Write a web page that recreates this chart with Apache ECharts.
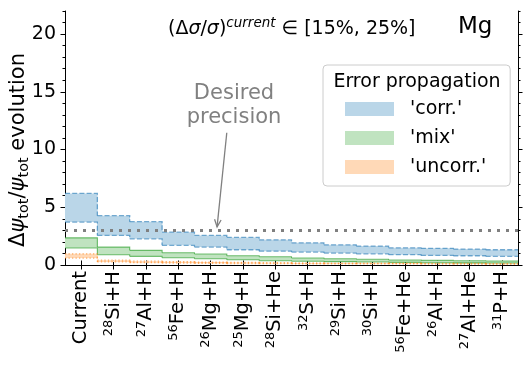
<!DOCTYPE html>
<html><head><meta charset="utf-8">
<script src="https://cdn.jsdelivr.net/npm/echarts@6/dist/echarts.min.js"></script>
<style>html,body{margin:0;padding:0;background:#fff}#c{width:531px;height:366px}</style>
</head><body><div id="c"></div>
<script>
// ---- data ----
const categories = ['Current','28Si+H','27Al+H','56Fe+H','26Mg+H','25Mg+H','28Si+He','32S+H','29Si+H','30Si+H','56Fe+He','26Al+H','27Al+He','31P+H'];
const corrHigh   = [6.20, 4.27, 3.75, 2.84, 2.56, 2.39, 2.18, 1.92, 1.75, 1.64, 1.49, 1.44, 1.38, 1.32];
const corrLow    = [3.72, 2.56, 2.27, 1.70, 1.55, 1.32, 1.20, 1.12, 1.03, 0.97, 0.89, 0.83, 0.80, 0.75];
const mixHigh    = [2.35, 1.55, 1.27, 1.06, 0.95, 0.80, 0.72, 0.60, 0.54, 0.50, 0.43, 0.40, 0.37, 0.34];
const mixLow     = [1.47, 0.89, 0.75, 0.63, 0.54, 0.46, 0.37, 0.32, 0.29, 0.26, 0.23, 0.20, 0.18, 0.17];
const uncorrHigh = [0.97, 0.42, 0.33, 0.28, 0.25, 0.22, 0.20, 0.18, 0.17, 0.16, 0.15, 0.14, 0.13, 0.12];
const uncorrLow  = [0.60, 0.27, 0.20, 0.17, 0.15, 0.13, 0.12, 0.11, 0.10, 0.09, 0.09, 0.08, 0.08, 0.07];
const seriesNames = ["'corr.'", "'mix'", "'uncorr.'"];
const desiredPrecision = 3;
const yMajorTicks = [0, 5, 10, 15, 20];
const arrowTail = [4.5, 11.45];
const arrowHead = [4.2, 3.3];

// ---- rendering ----
const FONT = 'DejaVu Sans';
const chart = echarts.init(document.getElementById('c'), null, {renderer: 'canvas'});

function buildData(low, high) {
  return low.map((lo, i) => [i, lo, high[i],
    i + 1 < low.length ? low[i + 1] : lo,
    i + 1 < high.length ? high[i + 1] : high[i]]);
}

function bandRenderer(fill, edge) {
  return function (params, api) {
    const i = api.value(0);
    const pLo = api.coord([i, api.value(1)]);
    const pHi = api.coord([i, api.value(2)]);
    const nLo = api.coord([i, api.value(3)]);
    const nHi = api.coord([i, api.value(4)]);
    const w = api.size([1, 0])[0];
    const xL = pLo[0] - w / 2, xR = pLo[0] + w / 2;
    const last = params.dataIndex === params.dataInsideLength - 1;
    const topPts = [[xL, pHi[1]], [xR, pHi[1]]];
    const botPts = [[xL, pLo[1]], [xR, pLo[1]]];
    if (!last) { topPts.push([xR, nHi[1]]); botPts.push([xR, nLo[1]]); }
    return {
      type: 'group',
      children: [
        {type: 'rect', shape: {x: xL - 0.3, y: pHi[1], width: w + 0.6, height: pLo[1] - pHi[1]},
         style: {fill: fill}, z2: 1},
        {type: 'polyline', shape: {points: topPts},
         style: {fill: null, stroke: edge.color, lineWidth: edge.width, lineDash: edge.dash}, z2: 2},
        {type: 'polyline', shape: {points: botPts},
         style: {fill: null, stroke: edge.color, lineWidth: edge.width, lineDash: edge.dash}, z2: 2}
      ]
    };
  };
}

const fills = ['#BAD6E8', '#C0E3C0', '#FFD9B7'];
const edges = [
  {color: 'rgba(31,119,180,0.6)', width: 1.3, dash: [5, 2.2]},
  {color: 'rgba(44,160,44,0.65)', width: 1.1, dash: null},
  {color: 'rgba(255,127,14,0.6)', width: 1.3, dash: [1.3, 2.2]}
];
const bands = [[corrLow, corrHigh], [mixLow, mixHigh], [uncorrLow, uncorrHigh]];

function xLabelFormatter(v) {
  const m = v.match(/^(\d+)(.*)$/);
  return m ? '{sup|' + m[1] + '}{main|' + m[2] + '}' : '{main|' + v + '}';
}

const tickStyle = {color: '#000', width: 1};
const series = bands.map((b, k) => ({
  name: seriesNames[k],
  type: 'custom',
  xAxisIndex: 0, yAxisIndex: 0,
  clip: true,
  itemStyle: {color: fills[k]},
  renderItem: bandRenderer(fills[k], edges[k]),
  encode: {x: 0, y: [1, 2]},
  data: buildData(b[0], b[1]),
  z: 2
}));
series[0].markLine = {
  silent: true, symbol: ['none', 'none'], animation: false, z: 5,
  label: {show: false},
  lineStyle: {color: '#808080', type: [3, 6], width: 3},
  data: [{yAxis: desiredPrecision}]
};

const option = {
  animation: false,
  backgroundColor: '#fff',
  textStyle: {fontFamily: FONT},
  grid: {left: 65, right: 13, top: 11, bottom: 101, containLabel: false, outerBoundsMode: 'none'},
  xAxis: [
    {type: 'category', data: categories, position: 'bottom', boundaryGap: true,
     axisLine: {show: true, lineStyle: tickStyle},
     axisTick: {show: true, alignWithLabel: true, interval: 0, length: 4.5, lineStyle: tickStyle},
     axisLabel: {interval: 0, rotate: 90, margin: 6, formatter: xLabelFormatter,
       rich: {
         main: {fontSize: 19.5, fontFamily: FONT, color: '#000', lineHeight: 22},
         sup: {fontSize: 13, fontFamily: FONT, color: '#000', verticalAlign: 'top'}
       }},
     splitLine: {show: false}},
    {type: 'category', data: categories, position: 'top', boundaryGap: true,
     axisLine: {show: true, lineStyle: tickStyle},
     axisTick: {show: true, alignWithLabel: true, interval: 0, length: 4.5, lineStyle: tickStyle},
     axisLabel: {show: false}, splitLine: {show: false}}
  ],
  yAxis: [
    {type: 'value', position: 'left', min: 0, max: 22,
     axisLine: {show: true, lineStyle: tickStyle},
     axisTick: {show: true, length: 4.5, customValues: yMajorTicks, lineStyle: tickStyle},
     axisLabel: {show: true, customValues: yMajorTicks, fontSize: 19, fontFamily: FONT, color: '#000', margin: 9},
     splitLine: {show: false}},
    {type: 'value', position: 'left', min: 0, max: 22, interval: 1,
     axisLine: {show: false}, axisTick: {show: true, length: 2.5, lineStyle: tickStyle},
     axisLabel: {show: false}, splitLine: {show: false}},
    {type: 'value', position: 'right', min: 0, max: 22,
     axisLine: {show: true, lineStyle: tickStyle},
     axisTick: {show: true, length: 4.5, customValues: yMajorTicks, lineStyle: tickStyle},
     axisLabel: {show: false}, splitLine: {show: false}},
    {type: 'value', position: 'right', min: 0, max: 22, interval: 1,
     axisLine: {show: false}, axisTick: {show: true, length: 2.5, lineStyle: tickStyle},
     axisLabel: {show: false}, splitLine: {show: false}}
  ],
  legend: {
    data: seriesNames.map((n, k) => ({name: n, icon: 'rect', itemStyle: {color: fills[k], borderWidth: 0}})),
    orient: 'vertical', left: 323, top: 65, padding: [34, 24, 9, 22],
    itemWidth: 49, itemHeight: 14, itemGap: 9, selectedMode: false,
    backgroundColor: 'rgba(255,255,255,0.8)', borderColor: '#cccccc', borderWidth: 1, borderRadius: 4,
    textStyle: {fontSize: 19, fontFamily: FONT, color: '#000', lineHeight: 20, padding: [0, 0, 0, 11]}
  },
  series: series
};
chart.setOption(option);

// annotations
function toPx(pt) {
  const i0 = Math.floor(pt[0]);
  const a = chart.convertToPixel({xAxisIndex: 0, yAxisIndex: 0}, [i0, pt[1]]);
  const b = chart.convertToPixel({xAxisIndex: 0, yAxisIndex: 0}, [i0 + 1, pt[1]]);
  const f = pt[0] - i0;
  return [a[0] + (b[0] - a[0]) * f, a[1]];
}
const t = toPx(arrowTail), h = toPx(arrowHead);
const ang = Math.atan2(h[1] - t[1], h[0] - t[0]);
const hl = 8, ha = 0.42;
const w1 = [h[0] - hl * Math.cos(ang - ha), h[1] - hl * Math.sin(ang - ha)];
const w2 = [h[0] - hl * Math.cos(ang + ha), h[1] - hl * Math.sin(ang + ha)];

chart.setOption({
  graphic: [
    {type: 'text', x: 417, y: 82, z: 100,
     style: {text: 'Error propagation', fontSize: 19, fontFamily: FONT, fill: '#000', align: 'center', verticalAlign: 'middle'}},
    {type: 'text', x: 19, y: 150, rotation: Math.PI / 2, z: 50,
     style: {
       text: '{n|Δ}{i|ψ}{s|tot}{n|/}{i|ψ}{s|tot}{n| evolution}',
       align: 'center', verticalAlign: 'middle',
       rich: {
         n: {fontSize: 21, fontFamily: FONT, fill: '#000', lineHeight: 26},
         i: {fontSize: 21, fontFamily: FONT, fill: '#000', fontStyle: 'italic', lineHeight: 26},
         s: {fontSize: 14.5, fontFamily: FONT, fill: '#000', verticalAlign: 'bottom'}
       }
     }},
    {type: 'text', x: 168, y: 29, z: 50,
     style: {
       text: '{n|(Δ}{i|σ}{n|/}{i|σ}{n|)}{sup|current}{n| ∈ [15%, 25%]}',
       verticalAlign: 'middle', align: 'left',
       rich: {
         n: {fontSize: 19, fontFamily: FONT, fill: '#000', lineHeight: 26},
         i: {fontSize: 19, fontFamily: FONT, fill: '#000', fontStyle: 'italic', lineHeight: 26},
         sup: {fontSize: 13.5, fontFamily: FONT, fill: '#000', fontStyle: 'italic', verticalAlign: 'top'}
       }
     }},
    {type: 'text', x: 458, y: 27, z: 50,
     style: {text: 'Mg', fontSize: 23, fontFamily: FONT, fill: '#000', align: 'left', verticalAlign: 'middle'}},
    {type: 'text', x: 234, y: 106, z: 50,
     style: {text: 'Desired\nprecision', fontSize: 21, lineHeight: 24, fontFamily: FONT, fill: '#808080', align: 'center', verticalAlign: 'middle'}},
    {type: 'polyline', z: 50, shape: {points: [t, h]}, style: {stroke: '#808080', lineWidth: 1.3, fill: null}},
    {type: 'polyline', z: 50, shape: {points: [w1, h, w2]}, style: {stroke: '#808080', lineWidth: 1.3, fill: null}}
  ]
});
</script>
</body></html>
